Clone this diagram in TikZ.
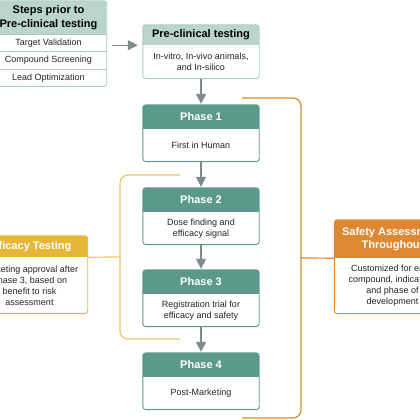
\documentclass[tikz,border=0pt]{standalone}
\usepackage{fontspec}
\setmainfont{Liberation Sans}
\usetikzlibrary{positioning,backgrounds,arrows.meta}
\definecolor{tealdark}{RGB}{91,154,139}
\definecolor{teallight}{RGB}{186,213,205}
\definecolor{tealline}{RGB}{172,202,194}
\definecolor{arrowgrey}{RGB}{125,139,143}
\definecolor{goldhead}{RGB}{230,183,55}
\definecolor{goldline}{RGB}{233,197,105}
\definecolor{orangehead}{RGB}{222,136,52}
\definecolor{textgrey}{RGB}{35,35,35}

\begin{document}
\begin{tikzpicture}[x=1pt,y=-1pt,
  head/.style={minimum width=116pt, inner sep=0pt, align=center,
    font=\fontsize{11}{13.5}\selectfont\bfseries},
  body/.style={minimum width=116pt, inner sep=0pt, align=center, text=textgrey,
    font=\fontsize{9}{11}\selectfont},
  arr/.style={draw=arrowgrey, line width=1.3pt, -{Triangle[length=10pt,width=10pt]}},
  frame/.style={rounded corners=3pt, line width=0.9pt},
  bracket/.style={line width=1.2pt, rounded corners=8pt}]

\clip (0,0) rectangle (420,420);

% steps before pre-clinical
\node[head, minimum height=33pt] (steps) at (48.5,17.5) {Steps prior to\\Pre-clinical testing};
\node[body, minimum height=17pt, below=0pt of steps] (target) {Target Validation};
\node[body, minimum height=17pt, below=0pt of target] (compound) {Compound Screening};
\node[body, minimum height=17pt, below=0pt of compound] (lead) {Lead Optimization};

% pre-clinical
\node[head, minimum height=20pt] (pre) at (201,35) {Pre-clinical testing};
\node[body, minimum height=33pt, below=0pt of pre] (preb) {In-vitro, In-vivo animals,\\and In-silico};

% phases
\foreach \i/\y/\txt in {1/117/First in Human,
    2/200/{Dose finding and\\efficacy signal},
    3/282/{Registration trial for\\efficacy and safety},
    4/365/Post-Marketing}{
  \node[head, text=white, minimum height=24pt] (ph\i) at (201,\y) {Phase \i};
  \node[body, minimum height=32pt, below=0pt of ph\i] (body\i) {\txt};
}

% side boxes
\node[head, text=white, minimum height=21pt] (eff) at (29.5,246.5) {Efficacy Testing};
\node[body, minimum height=56pt, below=0pt of eff] (effb) {Marketing approval after\\Phase 3, based on\\benefit to risk\\assessment};
\node[head, text=white, minimum height=38pt] (safe) at (392.5,239) {Safety Assessment\\Throughout};
\node[body, minimum height=55pt, below=0pt of safe] (safeb) {Customized for each\\compound, indication,\\and phase of\\development};

\begin{scope}[on background layer]
  \foreach \h/\b/\c/\l in {steps/lead/teallight/tealline, pre/preb/teallight/tealline,
      ph1/body1/tealdark/tealdark, ph2/body2/tealdark/tealdark,
      ph3/body3/tealdark/tealdark, ph4/body4/tealdark/tealdark,
      eff/effb/goldhead/goldhead, safe/safeb/orangehead/orangehead}{
    \begin{scope}
      \clip[rounded corners=3pt] (\h.north west) rectangle (\b.south east);
      \fill[\c] (\h.north west) rectangle (\h.south east);
    \end{scope}
    \draw[frame, draw=\l] (\h.north west) rectangle (\b.south east);
  }
  \foreach \r in {target,compound,lead}
    \draw[tealline, line width=0.9pt] (\r.north west) -- (\r.north east);
\end{scope}

% arrows
\draw[arr, shorten <=5pt, shorten >=5pt] (pre.south west -| steps.east) -- (pre.south west);
\foreach \a/\b in {preb/ph1, body1/ph2, body2/ph3, body3/ph4}
  \draw[arr, shorten >=1pt] (\a.south) -- (\b.north);

% brackets
\coordinate (efftop) at (180,175);
\coordinate (effmid) at (120,257);
\coordinate (effbot) at (180,339);
\draw[bracket, goldline] (efftop) -| (effmid) |- (effbot);
\draw[goldline, line width=1.2pt] (effb.north east) -- (effmid);

\coordinate (safetop) at (242,98);
\coordinate (safemid) at (301,258);
\coordinate (safebot) at (242,418);
\draw[bracket, orangehead] (safetop) -| (safemid) |- (safebot);
\draw[orangehead, line width=1.2pt] (safemid) -- (safeb.north west);
\end{tikzpicture}
\end{document}
